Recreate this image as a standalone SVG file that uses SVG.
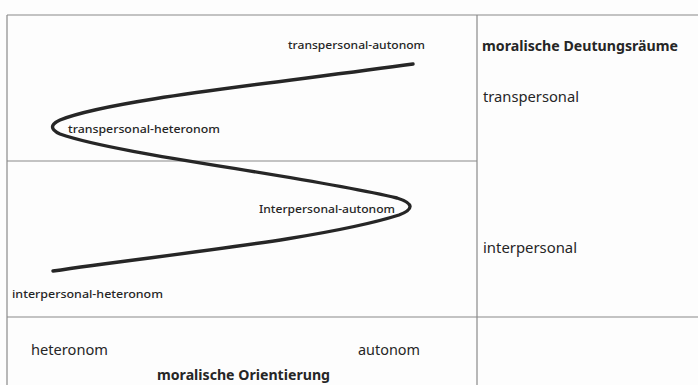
<svg xmlns="http://www.w3.org/2000/svg" width="698" height="385" viewBox="0 0 698 385">
  <style>
    .grid { stroke: #8a8a8a; stroke-width: 1.2; fill: none; }
    .curve { stroke: #262626; stroke-width: 3.4; fill: none; stroke-linecap: round; stroke-linejoin: round; }
    .lbl { font-family: "Noto Sans", "Open Sans", sans-serif; fill: #262626; }
    .sm { font-size: 11.5px; font-weight: 500; }
    .md { font-size: 14px; }
    .b { font-weight: bold; }
  </style>
  <rect width="698" height="385" fill="#fdfdfd"/>

  <!-- table frame -->
  <g id="table">
    <line class="grid" x1="7" y1="15" x2="698" y2="15"/>
    <line class="grid" x1="7" y1="15" x2="7" y2="385"/>
    <line class="grid" x1="477" y1="15" x2="477" y2="385"/>
    <line class="grid" x1="7" y1="161" x2="477" y2="161"/>
    <line class="grid" x1="7" y1="317" x2="698" y2="317"/>
  </g>

  <!-- development path through the four positions -->
  <g id="connectors">
    <path class="curve" d="M413,64 C260,85 110,100 60,120 Q45,127 60,134 C120,155 300,175 397,198 Q422,206 399,215 C320,240 160,255 53,271"/>
  </g>

  <g id="node-transpersonal-autonom">
    <text class="lbl sm" x="288" y="49" textLength="137" lengthAdjust="spacingAndGlyphs">transpersonal-autonom</text>
  </g>
  <g id="node-transpersonal-heteronom">
    <text class="lbl sm" x="68" y="133" textLength="152" lengthAdjust="spacingAndGlyphs">transpersonal-heteronom</text>
  </g>
  <g id="node-interpersonal-autonom">
    <text class="lbl sm" x="259" y="213" textLength="136" lengthAdjust="spacingAndGlyphs">Interpersonal-autonom</text>
  </g>
  <g id="node-interpersonal-heteronom">
    <text class="lbl sm" x="12" y="298" textLength="151" lengthAdjust="spacingAndGlyphs">interpersonal-heteronom</text>
  </g>

  <g id="axis-deutungsraeume">
    <text class="lbl md b" x="482" y="51" textLength="196" lengthAdjust="spacingAndGlyphs">moralische Deutungsräume</text>
    <text class="lbl md" x="483" y="102" textLength="96" lengthAdjust="spacingAndGlyphs">transpersonal</text>
    <text class="lbl md" x="483" y="253" textLength="94" lengthAdjust="spacingAndGlyphs">interpersonal</text>
  </g>

  <g id="axis-orientierung">
    <text class="lbl md" x="31" y="355" textLength="77" lengthAdjust="spacingAndGlyphs">heteronom</text>
    <text class="lbl md" x="358" y="355" textLength="62" lengthAdjust="spacingAndGlyphs">autonom</text>
    <text class="lbl md b" x="157" y="380" textLength="173" lengthAdjust="spacingAndGlyphs">moralische Orientierung</text>
  </g>
</svg>
